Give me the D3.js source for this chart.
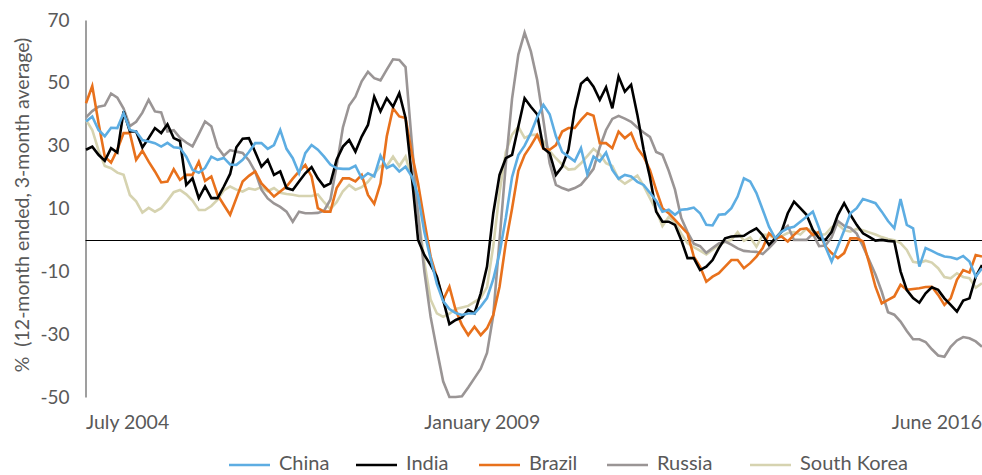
<!DOCTYPE html>
<html>
<head>
<meta charset="utf-8">
<script src="https://cdn.jsdelivr.net/npm/d3@7"></script>
<style>
  body { margin: 0; background: #fff; }
  text { font-family: Lato, "Open Sans", sans-serif; fill: #595959; }
</style>
</head>
<body>
<div id="chart"></div>
<script>
// monthly points, July 2004 .. June 2016
var seriesNames = ["China", "India", "Brazil", "Russia", "South Korea"];
var seriesColors = ["#5dade2", "#000000", "#e8711c", "#9a9595", "#d6d3b0"];

var china = [37.7, 39.3, 35, 33, 35.7, 35.6, 40.4, 35, 34.5, 31.8,
  31.3, 30.8, 29.7, 30.9, 29.5, 29.3, 26.5, 22.3, 21.4, 22.9,
  26.5, 25.5, 26.1, 24, 23.9, 25.5, 28, 30.8, 30.8, 29,
  30.2, 35, 29, 26, 21.2, 27.6, 30.2, 28.7, 26.5, 24,
  22.8, 22.6, 22.6, 23.6, 19.6, 21.2, 20.2, 26.8, 22.9, 23.9,
  21.8, 23.3, 20.2, 14, 2.5, -6, -14, -19.5, -22, -23.3,
  -23.9, -23.4, -23.4, -21.2, -18.5, -12.5, -4.2, 7, 20, 27,
  30, 34, 39, 43, 40, 33, 28, 26.5, 25, 29.2,
  21, 26.5, 25, 27.8, 22.3, 19.5, 20.7, 20.2, 18.5, 17.5,
  15, 12.5, 9, 9.6, 8, 9.6, 9.8, 10.3, 8.5, 4.8,
  4.6, 8, 8.2, 10.1, 13.8, 19.6, 18.6, 14.9, 9.6, 4.2,
  0.5, 2.6, 3.7, 4.2, 5.8, 7.4, 9, 3.7, -2.1, -6.9,
  -2, 3, 8.5, 10.1, 13, 12.4, 11.7, 9, 6, 3.7,
  13, 4.8, 3.7, -8.5, -2.6, -3.5, -4.5, -5.3, -5.5, -6.1,
  -5.1, -6.9, -11.7, -9];

var india = [28.7, 29.7, 27.1, 25.2, 29.2, 27.8, 40.9, 34.5, 34.5, 29.4,
  32.4, 35.6, 34, 36.8, 32.4, 31.5, 17.5, 19.6, 13.3, 17,
  13.3, 13.3, 17, 21, 29.5, 32.2, 32.4, 28, 23.3, 25.5,
  20.7, 21.8, 16.5, 15.9, 18.6, 21.2, 23.2, 19.6, 17, 18,
  25.5, 29.7, 31.8, 28.1, 32.9, 36.6, 45.6, 40.9, 45.1, 42.4,
  46.7, 38.8, 20.2, 0, -4.8, -8, -11.7, -19.1, -26.8, -25.5,
  -24.7, -22.3, -23.4, -17, -8.5, 8.5, 20.7, 26, 27.1, 36.1,
  45.1, 42.4, 40, 29.2, 27.6, 20.7, 23.3, 28.7, 41.4, 49.7,
  51.5, 48.8, 44.6, 48.6, 41.9, 52, 47.2, 49.4, 39.8, 28.7,
  20, 9, 5.8, 5.8, 4.8, 0, -5.8, -5.8, -9.6, -8.5,
  -6.4, -2.6, 0.5, 1.1, 1.2, 1.3, 2.6, 3.7, 1.5, -1.6,
  0.5, 2.6, 8.5, 12.2, 10.1, 8, 3.2, 0.5, 0, 2.6,
  8, 11.7, 8, 4.8, 2.1, 1, -0.2, 0, -0.3, -0.5,
  -10, -16, -18.5, -20, -17, -15.1, -15.9, -18.6, -20.7, -22.8,
  -19.3, -18.6, -11.7, -8];

var brazil = [43.5, 49, 37.2, 26.5, 24.6, 28.7, 34, 34, 25.5, 28.4,
  24.9, 21.8, 18.3, 18.6, 22.5, 19.1, 20.7, 20.7, 24.9, 18.8,
  20.2, 14.3, 11.1, 8, 13.3, 18.6, 20.4, 21.8, 18, 15.9,
  13.8, 15.4, 17, 19.5, 21.8, 23.9, 20.2, 10.1, 9, 9,
  16.5, 19.6, 19.6, 18.6, 20.7, 14.3, 11.5, 18, 32.9, 41.9,
  39.3, 38.8, 27.6, 18, 6, -5.3, -12, -19.1, -14.9, -22.3,
  -27.1, -30.3, -27.6, -30.3, -28.1, -23.9, -14.9, -1, 10, 22,
  27, 30, 33.4, 29, 28.7, 30.2, 34.5, 35.6, 35.6, 38.2,
  40.3, 39.5, 30.8, 30.8, 29.2, 34.5, 32.4, 34, 29.2, 26.5,
  22.3, 15.9, 10.1, 8.5, 6.4, 4.2, 2.1, -5.3, -8.5, -13.3,
  -11.7, -10.6, -8.5, -6.4, -6.4, -9, -7.4, -5.3, -2.6, 2.1,
  0.5, 1.1, -0.5, 1.6, 3.4, 3.7, 1.6, 2.6, -2.1, -4.2,
  -5.8, -4.2, 0.5, 0.5, -0.5, -7.4, -14.9, -20.2, -19.1, -18,
  -14.3, -15.9, -15.6, -15.4, -15, -14.9, -17.5, -20.7, -18.6, -12.7,
  -9.6, -10.4, -4.8, -5.3];

var russia = [39, 41, 42.4, 42.8, 46.6, 45.3, 41.8, 36.2, 37.6, 40.5,
  44.6, 40.9, 40.6, 34.5, 34.9, 32.5, 31, 29.8, 33.7, 37.7,
  36.2, 29.5, 26.8, 28.6, 28.1, 27.7, 25.3, 21.7, 16, 13.2,
  11.6, 10.5, 9, 5.8, 9, 8.5, 8.5, 8.6, 9.3, 12.8,
  23.5, 35.8, 42.8, 45.6, 50.5, 53.5, 51.5, 50.8, 54.2, 57.5,
  57.3, 55, 31, 8, -10, -24.5, -35, -45, -50, -50,
  -49.8, -47, -44, -41, -36, -24, 0, 24, 45, 59,
  66, 60, 51, 38, 24.4, 17.5, 16.5, 15.8, 16.5, 17.6,
  20, 22.6, 29.5, 35, 38.5, 39.5, 38.6, 37.6, 35.8, 34.2,
  32.8, 28, 27.1, 22, 16, 7, 2.5, -1.2, -2, -4.1,
  -2.6, -1.1, -0.5, -1.5, -2.7, -3.5, -3.7, -3.8, -4.5, -2.6,
  -0.5, 2.8, 4.5, 0, 0, 0, 2, -2, -1.8, 0.8,
  6, 4.5, 3.8, 2, -2, -6.5, -11, -16.5, -23, -23.8,
  -26, -29, -31.6, -31.6, -32.5, -34.8, -36.8, -37.2, -34, -32,
  -30.9, -31.3, -32.3, -34];

var southKorea = [38.2, 35, 28.5, 23.5, 22.8, 21.4, 20.7, 14.3, 12.3, 8.7,
  10.2, 9, 10.1, 12.5, 15.2, 15.9, 14.5, 12.5, 9.5, 9.5,
  10.8, 12.8, 15.8, 17, 16, 15.4, 16.4, 16, 16.8, 15.5,
  16.5, 15, 14.6, 14.4, 14, 14, 14, 14.5, 12, 9.8,
  12, 15.5, 17.5, 16, 16.8, 18.5, 21, 23.5, 23.5, 26.5,
  23.5, 26.5, 19.5, 9, -7, -19, -23.4, -24.5, -23.5, -22,
  -21.5, -21, -19.7, -18.5, -15, -2, 15, 28, 33.5, 36,
  32.5, 33.4, 33.5, 31.5, 28.3, 26, 24, 22.4, 22.6, 24.4,
  26.7, 29, 27.3, 24.4, 23.5, 19.4, 17.9, 19.2, 20.5, 17.2,
  13.3, 9.4, 4.4, 7.3, 5.6, 2, -1, -2.3, -3.4, -4.6,
  -3.1, -1.6, -0.6, 0, 2.5, -0.3, 0.8, -2.2, 1.6, 1.6,
  0.3, 1.2, 2.2, 2.5, 1.7, 3.6, 3, 1.6, 1.8, 4,
  5, 3.1, 2.6, 3.5, 3.1, 2.4, 1.7, 0.9, 0.3, -0.1,
  -1, -3.2, -7, -7.3, -6.6, -7.2, -9, -11.8, -12.2, -10.6,
  -11.8, -12.2, -15.2, -13.8];

var yTicks = [-50, -30, -10, 10, 30, 50, 70];
var xTickIdx = [0, 54, 143];
var xTickLabels = ["July 2004", "January 2009", "June 2016"];

var allSeries = [china, india, brazil, russia, southKorea];

var width = 982, height = 475;
var margin_left = 86, margin_right = 0, margin_top = 20, margin_bottom = 78;

var svg = d3.select("#chart").append("svg")
  .attr("width", width)
  .attr("height", height);

var x = d3.scaleLinear().domain([0, china.length - 1]).range([margin_left, width - margin_right]);
var y = d3.scaleLinear().domain([-50, 70]).range([height - margin_bottom, margin_top]);

// y axis (plain hyphen for negatives, like the original)
var yAxis = svg.append("g")
  .attr("transform", "translate(" + (margin_left - 0.5) + ",0)")
  .call(d3.axisLeft(y).tickValues(yTicks).tickSize(0).tickPadding(16)
    .tickFormat(function(d) { return String(d); }));
yAxis.select(".domain").attr("stroke", "#7f7f7f").attr("stroke-width", 1.5);
yAxis.selectAll("text")
  .style("font-family", "Lato, sans-serif")
  .style("font-size", "19px")
  .attr("fill", "#595959");

svg.append("text")
  .attr("transform", "translate(29,205) rotate(-90)")
  .attr("text-anchor", "middle")
  .style("font-size", "19.5px")
  .style("white-space", "pre")
  .text("%  (12-month ended, 3-month average)");

// zero line, snapped to the pixel grid so it stays crisp
var zeroY = Math.round(y(0)) + 0.5;
svg.append("line")
  .attr("x1", margin_left - 0.5).attr("x2", width)
  .attr("y1", zeroY).attr("y2", zeroY)
  .attr("stroke", "#000").attr("stroke-width", 1);

// x labels
svg.selectAll(".xlab")
  .data(xTickIdx)
  .enter().append("text")
  .attr("class", "xlab")
  .attr("x", function(d) { return x(d); })
  .attr("y", 429)
  .attr("text-anchor", function(d, i) { return i == xTickIdx.length - 1 ? "end" : "start"; })
  .style("font-size", "19.5px")
  .text(function(d, i) { return xTickLabels[i]; });

// lines, drawn back to front
var line = d3.line()
  .x(function(d, i) { return x(i); })
  .y(function(d) { return y(d); });

var drawOrder = [4, 3, 2, 1, 0];
drawOrder.forEach(function(k) {
  svg.append("path")
    .datum(allSeries[k])
    .attr("fill", "none")
    .attr("stroke", seriesColors[k])
    .attr("stroke-width", 2.6)
    .attr("stroke-linejoin", "miter")
    .attr("d", line);
});

// legend
var legendX = [229, 356, 479, 607, 750];
var legend = svg.selectAll(".leg")
  .data(seriesNames)
  .enter().append("g")
  .attr("class", "leg")
  .attr("transform", function(d, i) { return "translate(" + legendX[i] + ",465)"; });
legend.append("line")
  .attr("x1", 0).attr("x2", 41)
  .attr("stroke", function(d, i) { return seriesColors[i]; })
  .attr("stroke-width", 2.6);
legend.append("text")
  .attr("x", 50)
  .attr("y", 5)
  .style("font-size", "20px")
  .text(function(d) { return d; });
</script>
</body>
</html>
